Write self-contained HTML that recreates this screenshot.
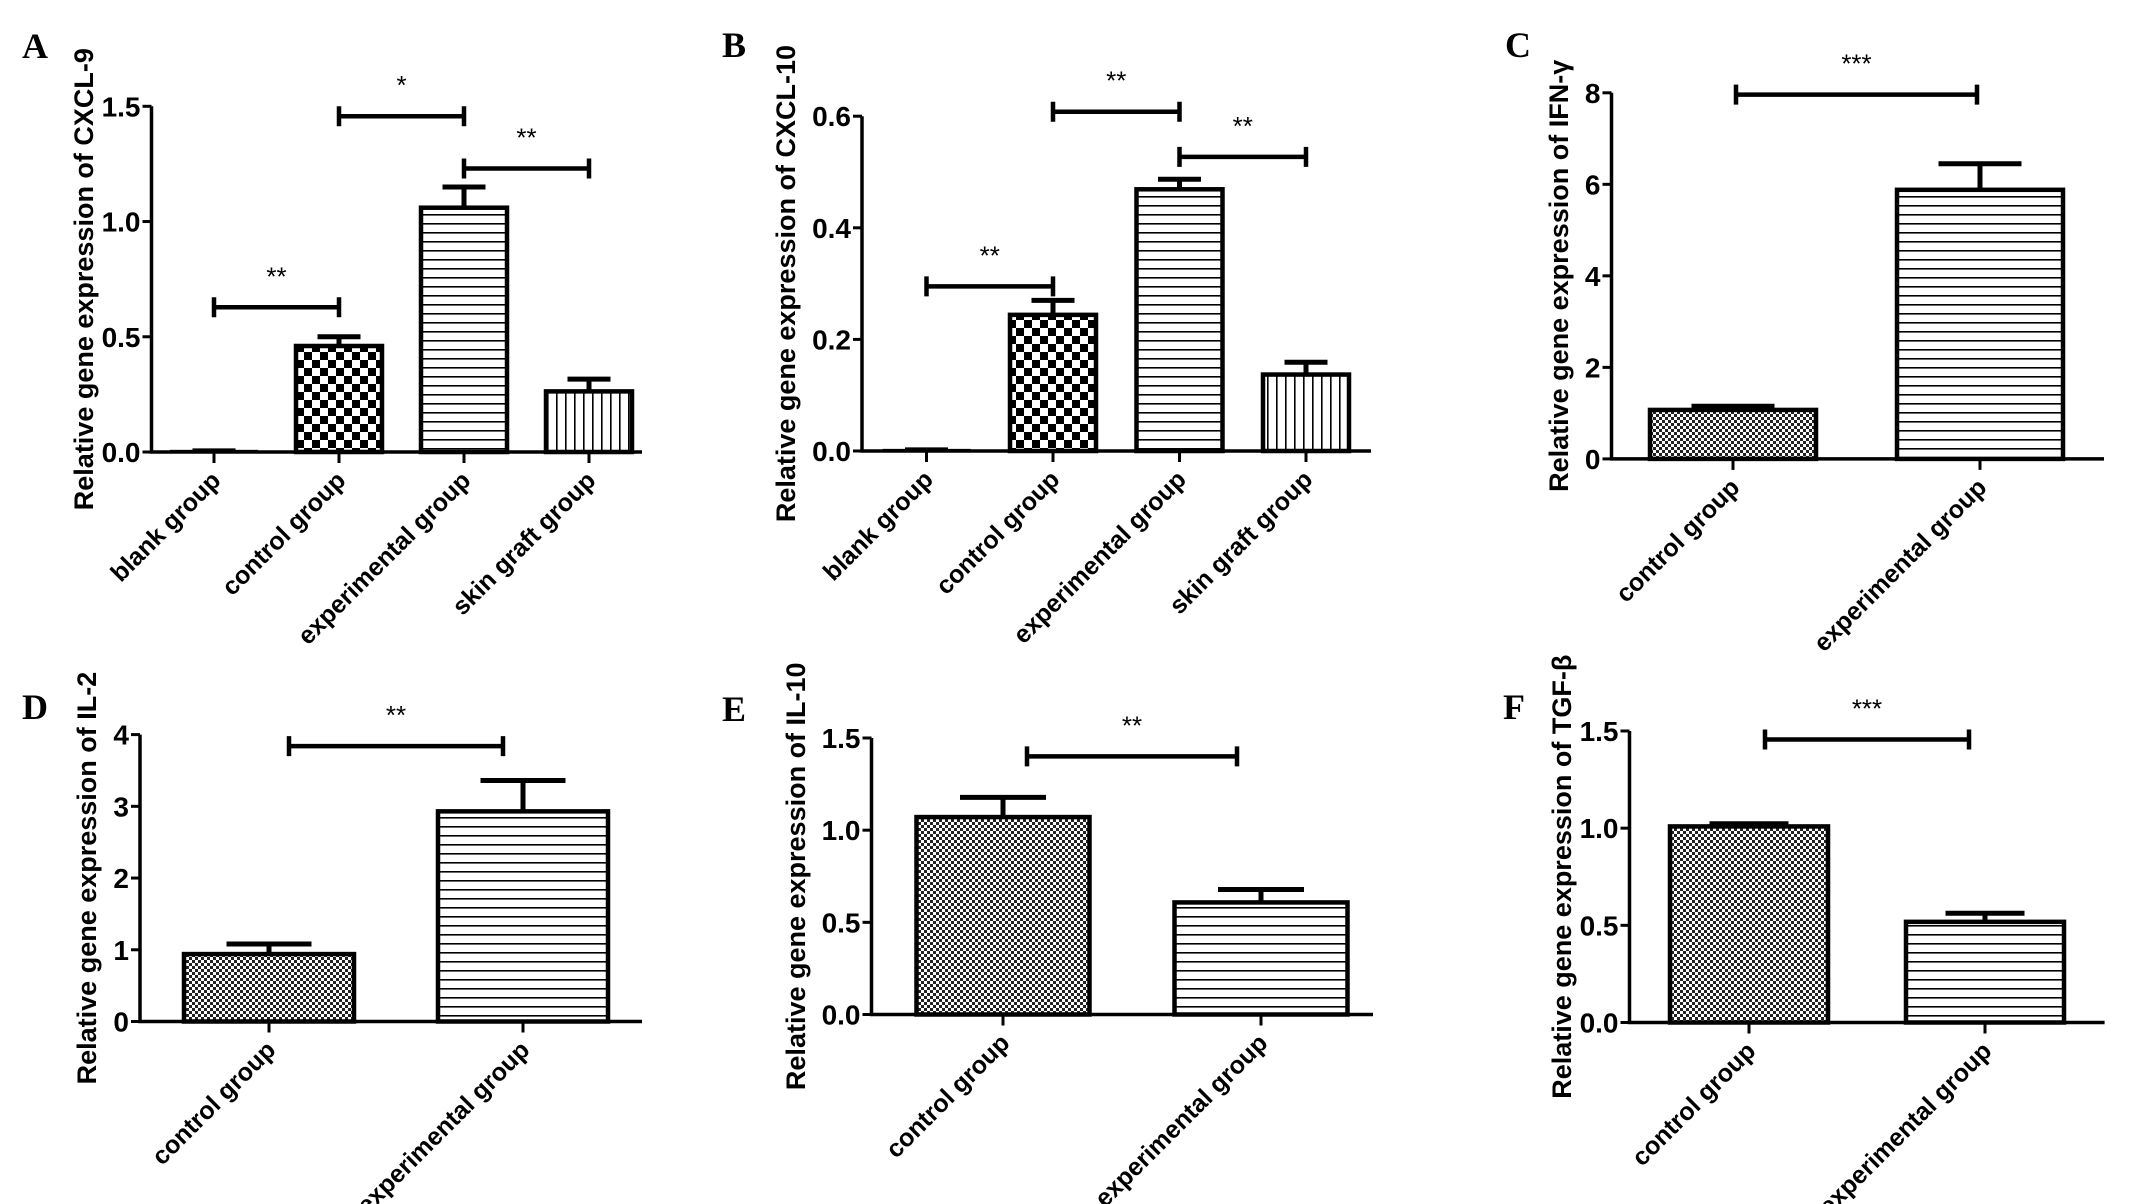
<!DOCTYPE html>
<html><head><meta charset="utf-8"><style>
html,body{margin:0;padding:0;background:#fff;}
svg{display:block;font-family:"Liberation Sans",Arial,sans-serif;}
</style></head><body>
<svg id="fig" width="2148" height="1204" viewBox="0 0 2148 1204" xmlns="http://www.w3.org/2000/svg">
<defs>
<pattern id="checkBig" width="16" height="16" patternUnits="userSpaceOnUse"><rect width="16" height="16" fill="#fff"/><rect width="8" height="8" fill="#000"/><rect x="8" y="8" width="8" height="8" fill="#000"/></pattern>
<pattern id="checkFine" width="6" height="6" patternUnits="userSpaceOnUse"><rect width="6" height="6" fill="#fff"/><rect width="3" height="3" fill="#222"/><rect x="3" y="3" width="3" height="3" fill="#222"/></pattern>
<pattern id="hlines" width="10" height="9" patternUnits="userSpaceOnUse"><rect width="10" height="9" fill="#fff"/><rect y="7" width="10" height="1.6" fill="#000"/></pattern>
<pattern id="vlines" width="9" height="10" patternUnits="userSpaceOnUse"><rect width="9" height="10" fill="#fff"/><rect x="7" width="1.6" height="10" fill="#000"/></pattern>
</defs>
</svg>
<script>
// Panel A: CXCL-9
const catsA = ["blank group","control group","experimental group","skin graft group"];
const valsA = [0.005,0.46,1.06,0.263];
const errsA = [0.005,0.50,1.15,0.316];
const ticksA = ["0.0","0.5","1.0","1.5"];
// Panel B: CXCL-10
const catsB = ["blank group","control group","experimental group","skin graft group"];
const valsB = [0.002,0.244,0.469,0.137];
const errsB = [0.002,0.27,0.487,0.159];
const ticksB = ["0.0","0.2","0.4","0.6"];
// Panel C: IFN-γ
const catsC = ["control group","experimental group"];
const valsC = [1.07,5.88];
const errsC = [1.15,6.45];
const ticksC = ["0","2","4","6","8"];
// Panel D: IL-2
const catsD = ["control group","experimental group"];
const valsD = [0.94,2.93];
const errsD = [1.08,3.36];
const ticksD = ["0","1","2","3","4"];
// Panel E: IL-10
const catsE = ["control group","experimental group"];
const valsE = [1.071,0.608];
const errsE = [1.178,0.678];
const ticksE = ["0.0","0.5","1.0","1.5"];
// Panel F: TGF-β
const catsF = ["control group","experimental group"];
const valsF = [1.009,0.518];
const errsF = [1.023,0.5625];
const ticksF = ["0.0","0.5","1.0","1.5"];
// significance brackets [from, to, level, label]
const sigA = [[0,1,0.628,"**"],[1,2,1.457,"*"],[2,3,1.23,"**"]];
const sigB = [[0,1,0.295,"**"],[1,2,0.608,"**"],[2,3,0.527,"**"]];
const sigC = [[0,1,7.96,"***"]];
const sigD = [[0,1,3.84,"**"]];
const sigE = [[0,1,1.40,"**"]];
const sigF = [[0,1,1.456,"***"]];

const NS="http://www.w3.org/2000/svg";
const svg=document.getElementById('fig');
function mk(tag,attrs,parent){const e=document.createElementNS(NS,tag);for(const k in attrs)e.setAttribute(k,attrs[k]);(parent||svg).appendChild(e);return e;}

const panels=[
 {id:'a',letter:'A',lx:22,ly:58,ax:151.5,y0:452,yT:106.3,xEnd:642,c0:214,step:125,bw:86,title:'Relative gene expression of CXCL-9',tx:86,cats:catsA,vals:valsA,errs:errsA,ticks:ticksA,sig:sigA,pats:['checkBig','checkBig','hlines','vlines'],pad:0},
 {id:'b',letter:'B',lx:722,ly:57,ax:862,y0:451,yT:116.2,xEnd:1371,c0:926.5,step:126.5,bw:86,title:'Relative gene expression of CXCL-10',tx:788,cats:catsB,vals:valsB,errs:errsB,ticks:ticksB,sig:sigB,pats:['checkBig','checkBig','hlines','vlines'],pad:0},
 {id:'c',letter:'C',lx:1505,ly:57,ax:1611.5,y0:458.9,yT:92.8,xEnd:2104,c0:1733,step:247,bw:166,title:'Relative gene expression of IFN-γ',tx:1561,cats:catsC,vals:valsC,errs:errsC,ticks:ticksC,sig:sigC,pats:['checkFine','hlines'],pad:3},
 {id:'d',letter:'D',lx:22,ly:719,ax:140,y0:1021.5,yT:734.6,xEnd:642,c0:269,step:254,bw:170,title:'Relative gene expression of IL-2',tx:89,cats:catsD,vals:valsD,errs:errsD,ticks:ticksD,sig:sigD,pats:['checkFine','hlines'],pad:20},
 {id:'e',letter:'E',lx:722,ly:721,ax:871.5,y0:1014.5,yT:738,xEnd:1373,c0:1003,step:258,bw:173,title:'Relative gene expression of IL-10',tx:798,cats:catsE,vals:valsE,errs:errsE,ticks:ticksE,sig:sigE,pats:['checkFine','hlines'],pad:24},
 {id:'f',letter:'F',lx:1503,ly:719,ax:1629.5,y0:1022.5,yT:731,xEnd:2104.6,c0:1749,step:236,bw:158,title:'Relative gene expression of TGF-β',tx:1564,cats:catsF,vals:valsF,errs:errsF,ticks:ticksF,sig:sigF,pats:['checkFine','hlines'],pad:16}
];

panels.forEach(p=>{
 const g=mk('g',{});
 
 
 const tMax=parseFloat(p.ticks[p.ticks.length-1]);
 const y=v=>p.y0-(v/tMax)*(p.y0-p.yT);
 const x=i=>p.c0+i*p.step;
 const L=mk('text',{x:p.lx,y:p.ly,'font-family':'"Liberation Serif",serif','font-weight':'bold','font-size':36},g);
 L.textContent=p.letter;
 
 
 p.vals.forEach((v,i)=>{
  const top=y(v);
  const r=mk('rect',{x:x(i)-p.bw/2,y:top,width:p.bw,height:Math.max(p.y0-top,0.5),fill:'url(#'+p.pats[i]+')',stroke:'#000','stroke-width':v<0.01*tMax?2:4.5},g);
  
  
  const et=y(p.errs[i]);
  const cw=Math.min(p.bw*0.5,86);
  const eb=mk('path',{d:`M${x(i)},${top} V${et} M${x(i)-cw/2},${et} H${x(i)+cw/2}`,stroke:'#000','stroke-width':5,fill:'none'},g);
  
  
 });
 const ax=mk('path',{d:`M${p.ax},${p.yT} V${p.y0} H${p.xEnd}`,stroke:'#000','stroke-width':3.5,fill:'none'},g);
 
 
 p.ticks.forEach(t=>{
  const ty=y(parseFloat(t));
  mk('line',{x1:p.ax-9,x2:p.ax,y1:ty,y2:ty,stroke:'#000','stroke-width':3},g);
  const tl=mk('text',{x:p.ax-11,y:ty+10,'text-anchor':'end','font-weight':'bold','font-size':28},g);
  tl.textContent=t;
  
  
 });
 p.cats.forEach((c,i)=>{
  mk('line',{x1:x(i),x2:x(i),y1:p.y0,y2:p.y0+11,stroke:'#000','stroke-width':3},g);
  const cx=x(i)+8,cy=p.y0+30;
  const cl=mk('text',{x:cx,y:cy,'text-anchor':'end','font-weight':'bold','font-size':25,transform:`rotate(-45 ${cx} ${cy})`},g);
  cl.textContent=c;
  
  
 });
 const my=(p.y0+p.yT)/2;
 const tt=mk('text',{x:p.tx,y:my,'text-anchor':'middle','font-weight':'bold','font-size':27,transform:`rotate(-90 ${p.tx} ${my})`,'dominant-baseline':'middle'},g);
 tt.textContent=p.title;
 
 
 p.sig.forEach(s=>{
  const by=y(s[2]);
  const x1=x(s[0])+p.pad,x2=x(s[1])-p.pad;
  const br=mk('path',{d:`M${x1},${by-10} V${by+10} M${x1},${by} H${x2} M${x2},${by-10} V${by+10}`,stroke:'#000','stroke-width':4.5,fill:'none'},g);
  
  
  const st=mk('text',{x:(x1+x2)/2,y:by-22,'text-anchor':'middle','font-size':26},g);
  st.textContent=s[3];
  
  
 });
});
</script>
</body></html>
